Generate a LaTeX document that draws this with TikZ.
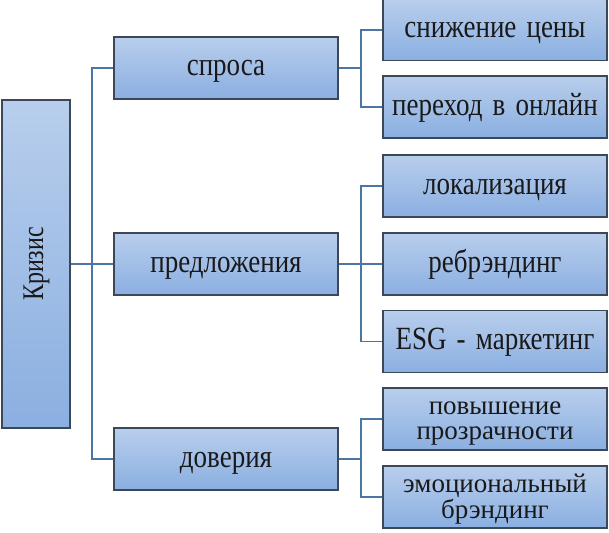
\documentclass[tikz,border=0pt]{standalone}
\usepackage{fontspec}
\usepackage{graphicx}
\setmainfont[WordSpace=1.5]{Liberation Serif}
\usetikzlibrary{calc}
\definecolor{topc}{RGB}{184,206,236}
\definecolor{botc}{RGB}{138,175,225}
\definecolor{edgec}{RGB}{60,72,88}
\definecolor{linec}{RGB}{74,118,165}
\newcommand\sy[1]{\scalebox{1}[1.2]{#1}}
\newcommand\twoline[2]{\raisebox{-3pt}[\height][\depth]{\begin{tabular}{@{}c@{}}#1\\#2\end{tabular}}}
\tikzset{
  box/.style={draw=edgec, line width=1.1pt, top color=topc, bottom color=botc,
    inner sep=0pt, text=black!90, text height=16pt, text depth=0pt,
    font=\fontsize{27}{24}\selectfont},
  midbox/.style={box, minimum width=224pt, minimum height=62pt},
  rbox/.style={box, minimum width=224pt, minimum height=62pt},
  twol/.style={text height=, text depth=, font=\fontsize{27}{25}\selectfont},
  conn/.style={draw=linec, line width=1.8pt}
}
\begin{document}
\begin{tikzpicture}[x=1pt,y=-1pt]
\useasboundingbox (0,0) rectangle (609,532);
\node[box, minimum width=68pt, minimum height=328pt, text height=, text depth=] (kr) at (36,264) {};
\node[rotate=90, anchor=base, inner sep=0pt, font=\fontsize{24}{24}\selectfont, text=black!90] (krt) at (43,264) {\scalebox{1}[1.25]{Кризис}};
\node[midbox] (sp) at (226,68) {\sy{спроса}};
\node[midbox] (pr) at (226,264) {\sy{предложения}};
\node[midbox] (dv) at (226,459) {\sy{доверия}};
\node[rbox, minimum height=61pt] (s1) at (495,30) {\sy{снижение цены}};
\node[rbox] (s2) at (495,107) {\sy{переход в онлайн}};
\node[rbox] (r1) at (495,186) {\sy{локализация}};
\node[rbox] (r2) at (495,264) {\sy{ребрэндинг}};
\node[rbox] (r3) at (495,341.5) {\sy{ESG - маркетинг}};
\node[rbox, twol] (q1) at (495,419) {\twoline{повышение}{прозрачности}};
\node[rbox, twol] (q2) at (495,497) {\twoline{эмоциональный}{брэндинг}};
\coordinate (t) at (92,264);
\coordinate (b1) at (361,68);
\coordinate (b2) at (361,264);
\coordinate (b3) at (361,459);
\draw[conn] (kr.east) -- (pr.west);
\draw[conn] (sp.west) -| (t) |- (dv.west);
\draw[conn] (sp.east) -- (b1);
\draw[conn] (s1.west) -| (b1) |- (s2.west);
\draw[conn] (pr.east) -- (r2.west);
\draw[conn] (r1.west) -| (b2) |- (r3.west);
\draw[conn] (dv.east) -- (b3);
\draw[conn] (q1.west) -| (b3) |- (q2.west);
\end{tikzpicture}
\end{document}
